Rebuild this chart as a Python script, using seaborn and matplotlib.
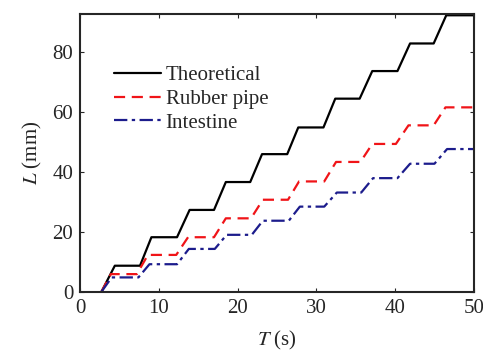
import matplotlib
matplotlib.use("Agg")
import matplotlib.pyplot as plt
import seaborn as sns
import pandas as pd

# staircase breakpoints
t_theory = [2.7, 4.4, 7.6, 9.05, 12.3, 13.9, 17.0, 18.5, 21.6, 23.1, 26.3, 27.7, 30.9, 32.4, 35.5, 37.1, 40.3, 41.9, 44.9, 46.5, 50]
l_theory = [0, 8.7, 8.7, 18.2, 18.2, 27.3, 27.3, 36.6, 36.6, 45.9, 45.9, 54.8, 54.8, 64.4, 64.4, 73.6, 73.6, 82.8, 82.8, 92.2, 92.2]

t_rubber = [2.7, 3.9, 7.2, 8.6, 12.2, 13.7, 17.0, 18.5, 21.7, 23.2, 26.4, 27.8, 31.0, 32.5, 35.6, 37.1, 40.1, 41.7, 44.9, 46.4, 50]
l_rubber = [0, 5.9, 5.9, 12.3, 12.3, 18.2, 18.2, 24.5, 24.5, 30.7, 30.7, 36.8, 36.8, 43.3, 43.3, 49.3, 49.3, 55.5, 55.5, 61.5, 61.5]

t_intestine = [2.7, 4.0, 7.4, 8.8, 12.3, 13.8, 17.1, 18.6, 21.8, 23.2, 26.5, 27.9, 31.0, 32.6, 35.7, 37.2, 40.3, 41.9, 45.0, 46.6, 50]
l_intestine = [0, 4.8, 4.8, 9.2, 9.2, 14.3, 14.3, 19.0, 19.0, 23.7, 23.7, 28.4, 28.4, 33.1, 33.1, 37.9, 37.9, 42.7, 42.7, 47.6, 47.6]

sns.set_style("ticks")
plt.rcParams['font.family'] = ['Liberation Serif', 'DejaVu Serif']
plt.rcParams['mathtext.fontset'] = 'stix'

fig = plt.figure(figsize=(4.83, 3.52), dpi=100)
ax = fig.add_axes([0.166, 0.171, 0.815, 0.789])

series = [
    ("Theoretical", t_theory, l_theory, "black", "-"),
    ("Rubber pipe", t_rubber, l_rubber, "#f01418", (0, (5, 3))),
    ("Intestine", t_intestine, l_intestine, "#1c1c8c", (0, (6, 2, 1.5, 2))),
]
for name, t, l, c, ls in series:
    df = pd.DataFrame({"T": t, "L": l})
    sns.lineplot(data=df, x="T", y="L", ax=ax, color=c, linestyle=ls,
                 linewidth=1.6, estimator=None, sort=False, label=name)

ax.set_xlim(0, 50)
ax.set_ylim(0, 92.6)
ax.set_xticks([0, 10, 20, 30, 40, 50])
ax.set_yticks([0, 20, 40, 60, 80])
ax.tick_params(direction="in", top=True, right=True, labelsize=15, length=3, width=0.8, pad=5)
for s in ax.spines.values():
    s.set_linewidth(1.5)
ax.set_xlabel(r"$T$ (s)", fontsize=15, labelpad=8)
ax.set_ylabel(r"$L$ (mm)", fontsize=15, labelpad=6)

ax.legend(loc="upper left", bbox_to_anchor=(0.066, 0.845), frameon=False, fontsize=15,
          handlelength=2.25, handletextpad=0.2, labelspacing=0.2, borderaxespad=0)

fig.savefig("out.png", dpi=100)
